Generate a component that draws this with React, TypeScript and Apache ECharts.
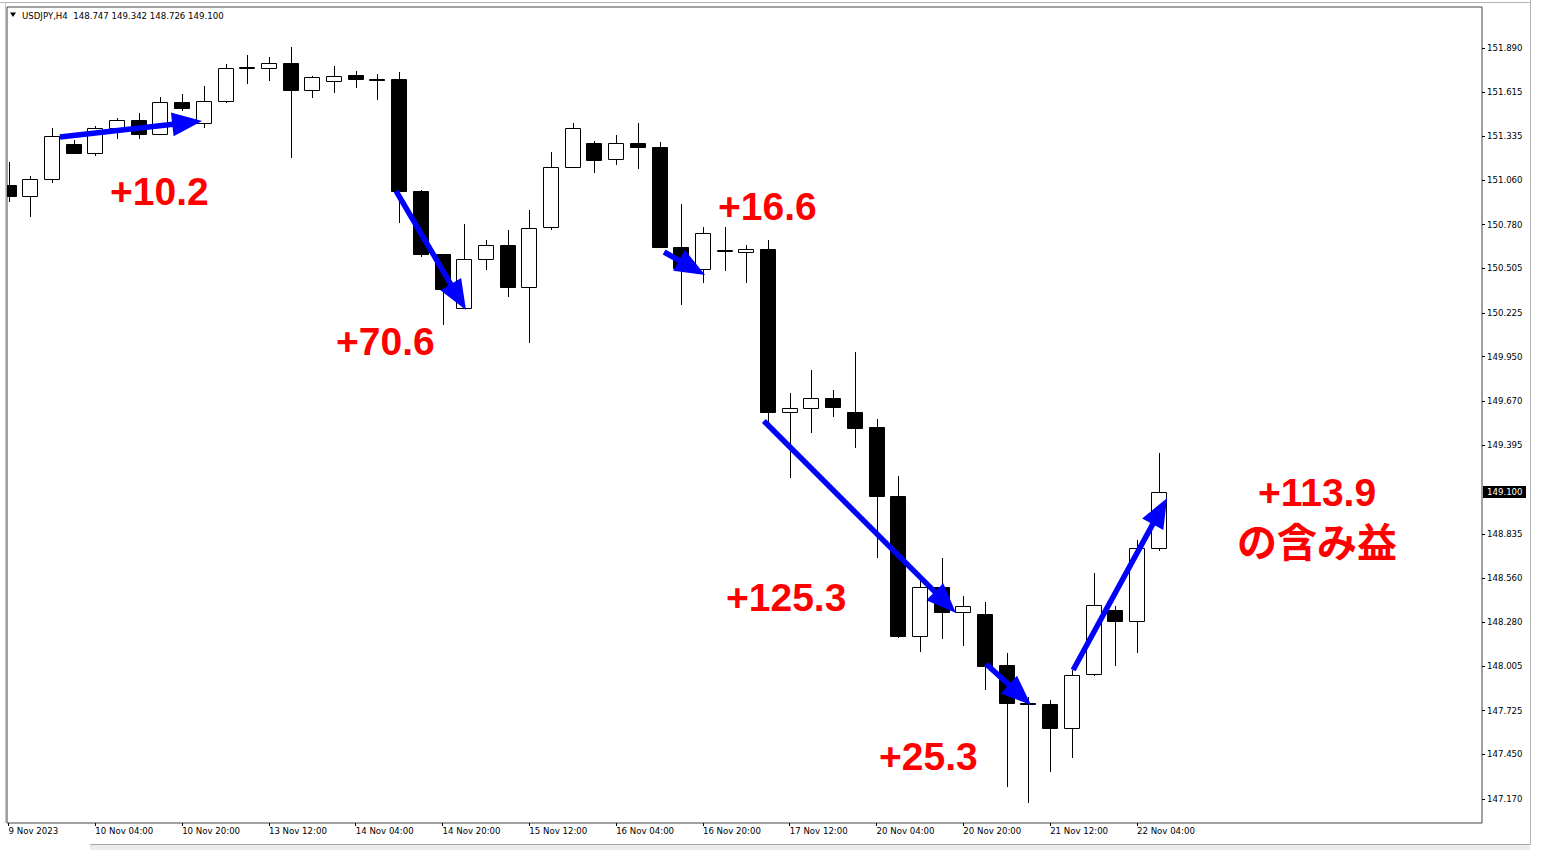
import React, { useEffect, useRef } from "react";
import * as echarts from "echarts";

// ---------- data ----------
const symbolName = "USDJPY";
const timeframe = "H4";

const times = [
  "9 Nov 12:00", "9 Nov 16:00", "9 Nov 20:00", "10 Nov 00:00", "10 Nov 04:00", "10 Nov 08:00",
  "10 Nov 12:00", "10 Nov 16:00", "10 Nov 20:00", "13 Nov 00:00", "13 Nov 04:00", "13 Nov 08:00",
  "13 Nov 12:00", "13 Nov 16:00", "13 Nov 20:00", "14 Nov 00:00", "14 Nov 04:00", "14 Nov 08:00",
  "14 Nov 12:00", "14 Nov 16:00", "14 Nov 20:00", "15 Nov 00:00", "15 Nov 04:00", "15 Nov 08:00",
  "15 Nov 12:00", "15 Nov 16:00", "15 Nov 20:00", "16 Nov 00:00", "16 Nov 04:00", "16 Nov 08:00",
  "16 Nov 12:00", "16 Nov 16:00", "16 Nov 20:00", "17 Nov 00:00", "17 Nov 04:00", "17 Nov 08:00",
  "17 Nov 12:00", "17 Nov 16:00", "17 Nov 20:00", "20 Nov 00:00", "20 Nov 04:00", "20 Nov 08:00",
  "20 Nov 12:00", "20 Nov 16:00", "20 Nov 20:00", "21 Nov 00:00", "21 Nov 04:00", "21 Nov 08:00",
  "21 Nov 12:00", "21 Nov 16:00", "21 Nov 20:00", "22 Nov 00:00", "22 Nov 04:00", "22 Nov 08:00",
];

const opens = [
  151.029, 150.960, 151.067, 151.287, 151.230, 151.387, 151.437, 151.350, 151.551, 151.419,
  151.557, 151.764, 151.764, 151.796, 151.626, 151.683, 151.720, 151.695, 151.695, 150.991,
  150.595, 150.256, 150.564, 150.652, 150.388, 150.765, 151.142, 151.293, 151.192, 151.293,
  151.268, 150.639, 150.501, 150.614, 150.608, 150.627, 149.602, 149.627, 149.690, 149.602,
  149.508, 149.074, 148.194, 148.502, 148.345, 148.333, 148.012, 147.773, 147.767, 147.616,
  147.955, 148.358, 148.289, 148.747,
];
const highs = [
  151.173, 151.086, 151.387, 151.312, 151.400, 151.450, 151.481, 151.582, 151.601, 151.651,
  151.789, 151.846, 151.833, 151.896, 151.714, 151.777, 151.745, 151.727, 151.739, 150.998,
  150.595, 150.784, 150.683, 150.746, 150.872, 151.236, 151.419, 151.306, 151.343, 151.419,
  151.299, 150.910, 150.765, 150.765, 150.652, 150.683, 149.722, 149.866, 149.740, 149.979,
  149.558, 149.200, 148.546, 148.685, 148.446, 148.408, 148.088, 147.810, 147.792, 147.981,
  148.590, 148.383, 148.798, 149.342,
];
const lows = [
  150.922, 150.828, 151.042, 151.224, 151.211, 151.318, 151.318, 151.343, 151.494, 151.387,
  151.544, 151.664, 151.683, 151.199, 151.576, 151.607, 151.639, 151.563, 150.790, 150.576,
  150.149, 150.250, 150.495, 150.325, 150.036, 150.746, 151.136, 151.104, 151.155, 151.130,
  150.633, 150.275, 150.413, 150.488, 150.413, 149.508, 149.187, 149.470, 149.571, 149.376,
  148.685, 148.182, 148.094, 148.176, 148.132, 147.855, 147.246, 147.145, 147.340, 147.428,
  147.943, 148.006, 148.088, 148.726,
];
const closes = [
  150.960, 151.067, 151.337, 151.230, 151.387, 151.437, 151.350, 151.551, 151.513, 151.557,
  151.764, 151.768, 151.796, 151.626, 151.708, 151.714, 151.695, 151.689, 150.991, 150.595,
  150.375, 150.564, 150.652, 150.388, 150.759, 151.142, 151.387, 151.186, 151.293, 151.268,
  150.639, 150.507, 150.727, 150.620, 150.627, 149.602, 149.627, 149.690, 149.634, 149.502,
  149.074, 148.194, 148.502, 148.345, 148.383, 148.006, 147.773, 147.767, 147.616, 147.949,
  148.389, 148.289, 148.747, 149.100,
];

const xTickIndex = [0, 4, 8, 12, 16, 20, 24, 28, 32, 36, 40, 44, 48, 52];
const xTickLabels = [
  "9 Nov 2023", "10 Nov 04:00", "10 Nov 20:00", "13 Nov 12:00", "14 Nov 04:00", "14 Nov 20:00",
  "15 Nov 12:00", "16 Nov 04:00", "16 Nov 20:00", "17 Nov 12:00", "20 Nov 04:00", "20 Nov 20:00",
  "21 Nov 12:00", "22 Nov 04:00",
];
const yTickValues = [
  151.89, 151.615, 151.335, 151.06, 150.78, 150.505, 150.225, 149.95, 149.67, 149.395,
  148.835, 148.56, 148.28, 148.005, 147.725, 147.45, 147.17,
];

// arrows: [bar index, price]
const arrowStarts = [
  [2.37, 151.331], [17.86, 150.991], [30.21, 150.608], [34.81, 149.546], [45.05, 148.019], [49.06, 147.981],
];
const arrowTips = [
  [8.92, 151.431], [21.08, 150.243], [32.1, 150.463], [43.66, 148.339], [47.12, 147.761], [53.39, 149.062],
];
const gainLabels = ["+10.2", "+70.6", "+16.6", "+125.3", "+25.3", "+113.9"];
const gainNote = "の含み益";

// ---------- layout ----------
const GRID = { left: 7, top: 7, width: 1475, height: 816 };
const X_MIN = -0.07;
const X_MAX = 67.9;
const Y_MIN = 147.0191;
const Y_MAX = 152.1477;
const gainPos = [
  [110, 191], [336, 341], [718, 206], [726, 597], [879, 756], [1317, 492],
];
const notePos = [1317, 540];
const SMALL_FONT = "DejaVu Sans";
const SMALL_SIZE = 8.6;

export default function App() {
  const ref = useRef<HTMLDivElement>(null);

  useEffect(() => {
    if (!ref.current) return;
    const chart = echarts.init(ref.current, undefined, { renderer: "svg" });
    const data = times.map((_, i) => [i, opens[i], closes[i], lows[i], highs[i]]);

    chart.setOption({
      animation: false,
      backgroundColor: "#fff",
      grid: {
        left: GRID.left,
        top: GRID.top,
        width: GRID.width,
        height: GRID.height,
        show: true,
        borderColor: "#444",
        borderWidth: 1,
        backgroundColor: "#fff",
      },
      xAxis: {
        type: "value",
        min: X_MIN,
        max: X_MAX,
        splitLine: { show: false },
        axisLine: { show: false, onZero: false },
        axisTick: { show: true, customValues: xTickIndex, length: 3, lineStyle: { color: "#000" } },
        axisLabel: {
          customValues: xTickIndex,
          formatter: (v: number) => {
            const k = xTickIndex.indexOf(Math.round(v));
            return k >= 0 ? xTickLabels[k] : "";
          },
          align: "left",
          margin: 3,
          color: "#000",
          fontFamily: SMALL_FONT,
          fontSize: SMALL_SIZE,
        },
      },
      yAxis: {
        type: "value",
        position: "right",
        min: Y_MIN,
        max: Y_MAX,
        splitLine: { show: false },
        axisLine: { show: false, onZero: false },
        axisTick: { show: true, customValues: yTickValues, length: 3, lineStyle: { color: "#000" } },
        axisLabel: {
          customValues: yTickValues,
          formatter: (v: number) => v.toFixed(3),
          margin: 5,
          color: "#000",
          fontFamily: SMALL_FONT,
          fontSize: SMALL_SIZE,
        },
      },
      series: [
        {
          type: "custom",
          clip: true,
          data,
          encode: { x: 0, y: [1, 2, 3, 4] },
          renderItem: (params: any, api: any) => {
            const x = api.value(0);
            const o = api.value(1);
            const c = api.value(2);
            const l = api.value(3);
            const h = api.value(4);
            const pO = api.coord([x, o]);
            const pC = api.coord([x, c]);
            const pL = api.coord([x, l]);
            const pH = api.coord([x, h]);
            const cx = Math.round(pO[0]) + 0.5;
            const top = Math.round(Math.min(pO[1], pC[1]));
            const bot = Math.round(Math.max(pO[1], pC[1]));
            const bull = c >= o;
            return {
              type: "group",
              children: [
                {
                  type: "line",
                  shape: { x1: cx, y1: Math.round(pH[1]), x2: cx, y2: Math.round(pL[1]) },
                  style: { stroke: "#000", lineWidth: 1 },
                },
                {
                  type: "rect",
                  shape: { x: cx - 8, y: top + 0.5, width: 15, height: Math.max(bot - top, 0) },
                  style: { fill: bull ? "#fff" : "#000", stroke: "#000", lineWidth: 1 },
                },
              ],
            };
          },
        },
      ],
    });

    const toPx = (p: number[]) => chart.convertToPixel({ gridIndex: 0 }, p) as number[];
    const elements: any[] = [];

    // window decoration
    elements.push(
      { type: "line", shape: { x1: 0, y1: 2.5, x2: 1530, y2: 2.5 }, style: { stroke: "#b4b4b4", lineWidth: 1 } },
      { type: "line", shape: { x1: 5.5, y1: 3, x2: 5.5, y2: 823 }, style: { stroke: "#c4c4c4", lineWidth: 1 } },
      { type: "line", shape: { x1: 1530.5, y1: 0, x2: 1530.5, y2: 845 }, style: { stroke: "#b4b4b4", lineWidth: 1 } },
      { type: "rect", shape: { x: 90, y: 844, width: 1440, height: 6 }, style: { fill: "#ececec" } },
      { type: "line", shape: { x1: 90, y1: 844.5, x2: 1530, y2: 844.5 }, style: { stroke: "#a8a8a8", lineWidth: 1 } }
    );

    // header
    const last = times.length - 1;
    const header = `${symbolName},${timeframe}  ${opens[last].toFixed(3)} ${highs[last].toFixed(3)} ${lows[last].toFixed(3)} ${closes[last].toFixed(3)}`;
    elements.push(
      { type: "polygon", shape: { points: [[10, 12.5], [16, 12.5], [13, 17]] }, style: { fill: "#000" } },
      {
        type: "text",
        x: 22,
        y: 15.5,
        style: {
          text: header,
          fill: "#000",
          fontFamily: SMALL_FONT,
          fontSize: SMALL_SIZE,
          verticalAlign: "middle",
          textVerticalAlign: "middle",
        },
      }
    );

    // current price box
    const cp = closes[last];
    const cpy = Math.round(toPx([0, cp])[1]);
    elements.push(
      { type: "rect", shape: { x: 1483, y: cpy - 6, width: 43, height: 12 }, style: { fill: "#000" } },
      {
        type: "text",
        x: 1487,
        y: cpy,
        style: {
          text: cp.toFixed(3),
          fill: "#fff",
          fontFamily: SMALL_FONT,
          fontSize: SMALL_SIZE,
          verticalAlign: "middle",
          textVerticalAlign: "middle",
        },
      }
    );

    // arrows
    const HEAD_LEN = 30;
    const HEAD_HALF = 12;
    arrowStarts.forEach((s, i) => {
      const a = toPx(s);
      const b = toPx(arrowTips[i]);
      const dx = b[0] - a[0];
      const dy = b[1] - a[1];
      const len = Math.hypot(dx, dy);
      const ux = dx / len;
      const uy = dy / len;
      const bx = b[0] - ux * HEAD_LEN;
      const by = b[1] - uy * HEAD_LEN;
      elements.push(
        {
          type: "line",
          shape: { x1: a[0], y1: a[1], x2: bx + ux * 3, y2: by + uy * 3 },
          style: { stroke: "#0000ff", lineWidth: 5.5, lineCap: "butt" },
          z: 10,
        },
        {
          type: "polygon",
          shape: {
            points: [
              [b[0], b[1]],
              [bx - uy * HEAD_HALF, by + ux * HEAD_HALF],
              [bx + uy * HEAD_HALF, by - ux * HEAD_HALF],
            ],
          },
          style: { fill: "#0000ff" },
          z: 10,
        }
      );
    });

    // gain labels
    gainLabels.forEach((t, i) => {
      const last2 = i === gainLabels.length - 1;
      elements.push({
        type: "text",
        x: gainPos[i][0],
        y: gainPos[i][1],
        z: 11,
        style: {
          text: t,
          fill: "#ff0000",
          fontFamily: "Liberation Sans",
          fontWeight: "bold",
          fontSize: 39,
          align: last2 ? "center" : "left",
          textAlign: last2 ? "center" : "left",
          verticalAlign: "middle",
          textVerticalAlign: "middle",
        },
      });
    });
    elements.push({
      type: "text",
      x: notePos[0],
      y: notePos[1],
      z: 11,
      style: {
        text: gainNote,
        fill: "#ff0000",
        fontFamily: "Noto Sans CJK JP",
        fontWeight: "bold",
        fontSize: 40,
        align: "center",
        textAlign: "center",
        verticalAlign: "middle",
        textVerticalAlign: "middle",
      },
    });

    chart.setOption({ graphic: { elements } });

    return () => chart.dispose();
  }, []);

  return (
    <div
      ref={ref}
      style={{ position: "fixed", left: 0, top: 0, width: 1543, height: 850, background: "#fff" }}
    />
  );
}
